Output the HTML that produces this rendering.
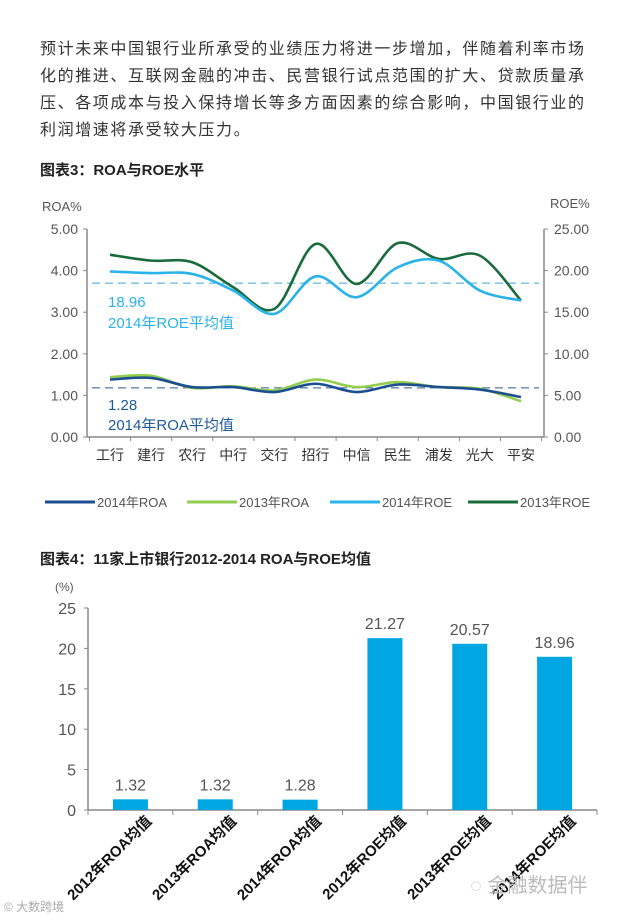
<!DOCTYPE html>
<html><head><meta charset="utf-8"><style>
html,body{margin:0;padding:0;background:#fff;}
body{width:640px;height:916px;overflow:hidden;position:relative;font-family:"Liberation Sans","Noto Sans CJK SC",sans-serif;}
svg text{font-family:"Liberation Sans","Noto Sans CJK SC",sans-serif;}
</style></head><body>
<svg id="s" width="640" height="916" viewBox="0 0 640 916" xmlns="http://www.w3.org/2000/svg">
<g font-size="16" fill="#333" letter-spacing="1.6">
<text x="40" y="54">预计未来中国银行业所承受的业绩压力将进一步增加，伴随着利率市场</text>
<text x="40" y="81">化的推进、互联网金融的冲击、民营银行试点范围的扩大、贷款质量承</text>
<text x="40" y="108">压、各项成本与投入保持增长等多方面因素的综合影响，中国银行业的</text>
<text x="40" y="135">利润增速将承受较大压力。</text>
</g>
<text x="40" y="175" font-size="15" font-weight="bold" fill="#222">图表3：ROA与ROE水平</text>
<g id="c1"></g>
<g id="legend"></g>
<text x="40" y="564" font-size="15" font-weight="bold" fill="#222">图表4：11家上市银行2012-2014 ROA与ROE均值</text>
<g id="c2"></g>
<text x="470" y="892" font-size="20" fill="#bbb">◌ 金融数据伴</text>
<text x="4" y="911" font-size="12" fill="#aaa">© 大数跨境</text>
</svg>
<script>
const NS="http://www.w3.org/2000/svg";
function mk(p,t,a){const e=document.createElementNS(NS,t);for(const k in a)e.setAttribute(k,a[k]);p.appendChild(e);return e;}
const banks=["工行","建行","农行","中行","交行","招行","中信","民生","浦发","光大","平安"];
const roa2014=[1.38,1.42,1.20,1.20,1.08,1.28,1.08,1.26,1.20,1.14,0.96];
const roa2013=[1.44,1.47,1.18,1.22,1.12,1.38,1.20,1.32,1.20,1.16,0.86];
const roe2014=[19.9,19.7,19.6,17.6,14.8,19.3,16.8,20.4,21.2,17.6,16.4];
const roe2013=[21.9,21.2,21.0,18.0,15.4,23.2,18.4,23.3,21.4,21.8,16.4];
const roaAvg=1.18, roeAvg=18.5;
const roaTicks=["0.00","1.00","2.00","3.00","4.00","5.00"];
const roeTicks=["0.00","5.00","10.00","15.00","20.00","25.00"];
const L=87,R=544,T=229,B=437;
const x1=i=>110+i*41.1;
const yA=v=>B-(v/5)*(B-T);
const yE=v=>B-(v/25)*(B-T);
const c1=document.getElementById('c1');
let e;
e=mk(c1,'line',{x1:L,y1:T,x2:L,y2:B,stroke:'#888','stroke-width':1.5});

e=mk(c1,'line',{x1:R,y1:T,x2:R,y2:B,stroke:'#888','stroke-width':1.5});

e=mk(c1,'line',{x1:L,y1:B,x2:R,y2:B,stroke:'#888','stroke-width':1.5});

roaTicks.forEach((t,i)=>{const y=yA(+t);
 mk(c1,'line',{x1:L-4,y1:y,x2:L,y2:y,stroke:'#888'});
 e=mk(c1,'text',{x:L-9,y:y+5,'text-anchor':'end','font-size':14,fill:'#555'});e.textContent=t;
 });
roeTicks.forEach((t,i)=>{const y=yE(+t);
 mk(c1,'line',{x1:R,y1:y,x2:R+4,y2:y,stroke:'#888'});
 e=mk(c1,'text',{x:R+10,y:y+5,'font-size':14,fill:'#555'});e.textContent=t;
 });
for(let i=0;i<=banks.length;i++){const x=x1(i)-20.5;mk(c1,'line',{x1:x,y1:B,x2:x,y2:B+4,stroke:'#888'});}
banks.forEach((b,i)=>{e=mk(c1,'text',{x:x1(i),y:460,'text-anchor':'middle','font-size':14,fill:'#333'});e.textContent=b;
 });
e=mk(c1,'text',{x:42,y:211,'font-size':13,fill:'#555'});e.textContent='ROA%';

e=mk(c1,'text',{x:550,y:208,'font-size':13,fill:'#555'});e.textContent='ROE%';

e=mk(c1,'line',{x1:L+5,y1:yE(roeAvg),x2:R-5,y2:yE(roeAvg),stroke:'#3aa9d8','stroke-dasharray':'8,5'});

e=mk(c1,'line',{x1:L+5,y1:yA(roaAvg),x2:R-5,y2:yA(roaAvg),stroke:'#2a5a8a','stroke-dasharray':'8,5'});

[[108,307,'18.96','#29b3e8'],[108,328,'2014年ROE平均值','#29b3e8'],[108,410,'1.28','#1f5a9a'],[108,430,'2014年ROA平均值','#1f5a9a']].forEach(a=>{
 e=mk(c1,'text',{x:a[0],y:a[1],'font-size':15,fill:a[3]});e.textContent=a[2];
 });
function smooth(pts){let d=`M${pts[0][0]},${pts[0][1]}`;
 for(let i=0;i<pts.length-1;i++){const p0=pts[Math.max(0,i-1)],p1=pts[i],p2=pts[i+1],p3=pts[Math.min(pts.length-1,i+2)];
  d+=` C${p1[0]+(p2[0]-p0[0])/6},${p1[1]+(p2[1]-p0[1])/6} ${p2[0]-(p3[0]-p1[0])/6},${p2[1]-(p3[1]-p1[1])/6} ${p2[0]},${p2[1]}`;}
 return d;}
const series=[[roe2013,yE,'#1a6b3c','line-2013-roe'],[roe2014,yE,'#29b3e8','line-2014-roe'],[roa2013,yA,'#92cd4d','line-2013-roa'],[roa2014,yA,'#1c4f8f','line-2014-roa']];
series.forEach(s=>{e=mk(c1,'path',{d:smooth(s[0].map((v,i)=>[x1(i),s[1](v)])),fill:'none',stroke:s[2],'stroke-width':2.6});
 });
const lg=document.getElementById('legend');
[[45,'#1c4f8f','2014年ROA'],[187,'#92cd4d','2013年ROA'],[330,'#29b3e8','2014年ROE'],[468,'#1a6b3c','2013年ROE']].forEach(a=>{
 mk(lg,'line',{x1:a[0],y1:502,x2:a[0]+50,y2:502,stroke:a[1],'stroke-width':3});
 e=mk(lg,'text',{x:a[0]+52,y:507,'font-size':13,fill:'#555'});e.textContent=a[2];
 });
// chart 2
const cats=["2012年ROA均值","2013年ROA均值","2014年ROA均值","2012年ROE均值","2013年ROE均值","2014年ROE均值"];
const vals=[1.32,1.32,1.28,21.27,20.57,18.96];
const labels=["1.32","1.32","1.28","21.27","20.57","18.96"];
const yTicks2=[0,5,10,15,20,25];
const L2=88,R2=597,T2=608,B2=810;
const y2=v=>B2-(v/25)*(B2-T2);
const xc=i=>L2+(R2-L2)/6*(i+0.5);
const c2=document.getElementById('c2');
e=mk(c2,'line',{x1:L2,y1:T2,x2:L2,y2:B2,stroke:'#888','stroke-width':1.5});

e=mk(c2,'line',{x1:L2,y1:B2,x2:R2,y2:B2,stroke:'#888','stroke-width':1.5});

e=mk(c2,'text',{x:55,y:591,'font-size':12,fill:'#555'});e.textContent='(%)';

yTicks2.forEach(t=>{const y=y2(t);mk(c2,'line',{x1:L2-4,y1:y,x2:L2,y2:y,stroke:'#888'});
 e=mk(c2,'text',{x:L2-12,y:y+6,'text-anchor':'end','font-size':16,fill:'#555'});e.textContent=t;
 });
for(let i=0;i<=6;i++){const x=L2+(R2-L2)/6*i;mk(c2,'line',{x1:x,y1:B2,x2:x,y2:B2+5,stroke:'#888'});}
vals.forEach((v,i)=>{const x=xc(i);
 e=mk(c2,'rect',{x:x-17.5,y:y2(v),width:35,height:B2-y2(v),fill:'#00a6e2'});
 
 e=mk(c2,'text',{x:x,y:y2(v)-9,'text-anchor':'middle','font-size':16,fill:'#555'});e.textContent=labels[i];
 
 e=mk(c2,'text',{x:x+22,y:B2+12,'text-anchor':'end','font-size':15,'font-weight':'bold',fill:'#111',transform:`rotate(-45 ${x+22} ${B2+12})`});e.textContent=cats[i];
 });
</script>
</body></html>
